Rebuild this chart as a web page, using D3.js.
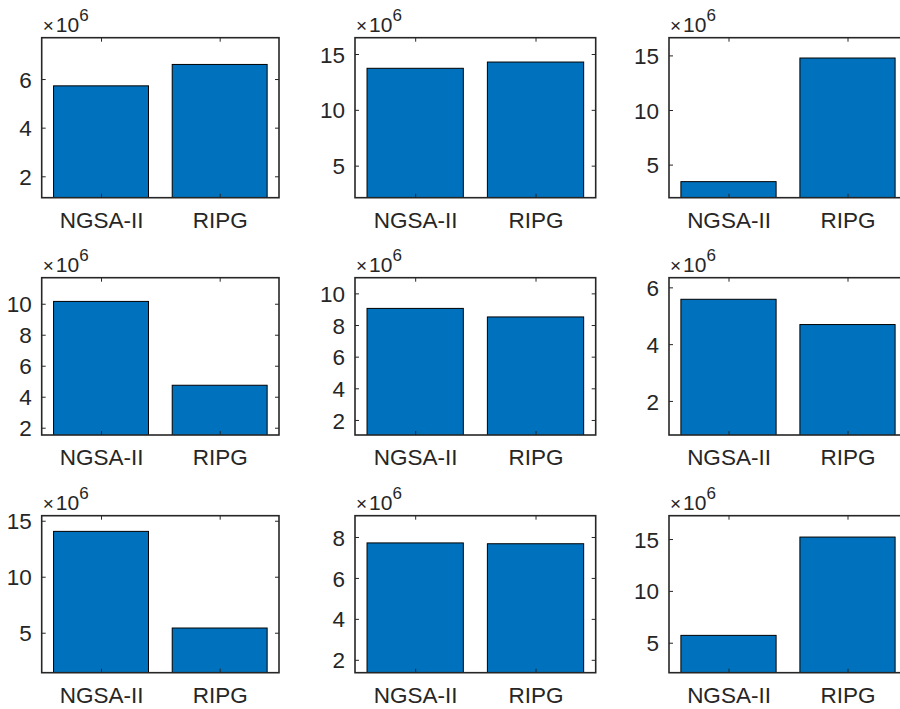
<!DOCTYPE html>
<html>
<head>
<meta charset="utf-8">
<script src="https://cdn.jsdelivr.net/npm/d3@7"></script>
<style>
  html, body { margin: 0; padding: 0; background: #fff; overflow: hidden; }
  svg { display: block; }
  text { font-family: "Liberation Sans", Arial, Helvetica, sans-serif; fill: #262626; }
</style>
</head>
<body>
<svg id="chart" width="900" height="709"></svg>
<script>
// Algorithms compared in each subplot
const categories = ["NGSA-II", "RIPG"];

// Bar heights per subplot (units of 10^6), row by row
const panelValues = [
  [5.72, 6.60],
  [13.72, 14.28],
  [3.44, 14.76],
  [10.15, 4.74],
  [9.05, 8.51],
  [5.58, 4.69],
  [14.05, 5.42],
  [7.71, 7.67],
  [5.71, 15.19]
];

// Y-axis limits per subplot (units of 10^6)
const panelYLimits = [
  [1.12, 7.70],
  [2.13, 16.46],
  [1.97, 16.62],
  [1.53, 11.68],
  [1.05, 10.99],
  [0.80, 6.34],
  [1.43, 15.45],
  [1.37, 9.04],
  [2.11, 17.25]
];

// Y tick values per subplot
const panelYTicks = [
  [2, 4, 6],
  [5, 10, 15],
  [5, 10, 15],
  [2, 4, 6, 8, 10],
  [2, 4, 6, 8, 10],
  [2, 4, 6],
  [5, 10, 15],
  [2, 4, 6, 8],
  [5, 10, 15]
];

const exponent = "6";

// Grid layout of the axes boxes
const colLeft = [41.7, 355, 669];
const colWidth = [237.3, 240.7, 238];
const rowTop = [37.7, 277.7, 515.7];
const rowBottom = [197.7, 435, 672.7];

const barColor = "#0072BD";
const axisColor = "#262626";
const tickLen = 4;

const svg = d3.select("#chart");

panelValues.forEach((vals, i) => {
  const r = Math.floor(i / 3), c = i % 3;
  const x0 = colLeft[c], w = colWidth[c];
  const y0 = rowTop[r], h = rowBottom[r] - rowTop[r];

  const g = svg.append("g").attr("transform", `translate(${x0},${y0})`);

  const x = d3.scaleLinear().domain([0.5, 2.5]).range([0, w]);
  const y = d3.scaleLinear().domain(panelYLimits[i]).range([h, 0]);
  const barW = x(1.4) - x(0.6);

  const clipId = "clip" + i;
  g.append("clipPath").attr("id", clipId)
    .append("rect").attr("x", 0).attr("y", 0).attr("width", w).attr("height", h);

  // Bars (baseline at zero, clipped to the axes box)
  g.append("g").attr("clip-path", `url(#${clipId})`)
    .selectAll("rect")
    .data(vals)
    .join("rect")
    .attr("x", (d, j) => x(j + 1) - barW / 2)
    .attr("y", d => y(d))
    .attr("width", barW)
    .attr("height", d => y(0) - y(d))
    .attr("fill", barColor)
    .attr("stroke", "#000")
    .attr("stroke-width", 1);

  // Left axis with tick labels, ticks pointing inward
  const yAxisLeft = d3.axisLeft(y).tickValues(panelYTicks[i]).tickSize(-tickLen).tickPadding(6 + tickLen).tickFormat(d3.format("d"));
  const gl = g.append("g").call(yAxisLeft);
  gl.select(".domain").remove();
  gl.selectAll("line").attr("stroke", axisColor).attr("stroke-width", 1);
  gl.selectAll("text").attr("font-size", 22.5).attr("fill", axisColor).attr("dy", "0.36em");

  // Right axis ticks (no labels)
  const gr = g.append("g").attr("transform", `translate(${w},0)`)
    .call(d3.axisRight(y).tickValues(panelYTicks[i]).tickSize(-tickLen).tickFormat(""));
  gr.select(".domain").remove();
  gr.selectAll("line").attr("stroke", axisColor).attr("stroke-width", 1);

  // Bottom axis with category labels
  const gb = g.append("g").attr("transform", `translate(0,${h})`)
    .call(d3.axisBottom(x).tickValues([1, 2]).tickSize(-tickLen).tickPadding(10 + tickLen)
      .tickFormat(d => categories[d - 1]));
  gb.select(".domain").remove();
  gb.selectAll("line").attr("stroke", axisColor).attr("stroke-width", 1);
  gb.selectAll("text").attr("font-size", 22.5).attr("fill", axisColor);

  // Top axis ticks
  const gt = g.append("g")
    .call(d3.axisTop(x).tickValues([1, 2]).tickSize(-tickLen).tickFormat(""));
  gt.select(".domain").remove();
  gt.selectAll("line").attr("stroke", axisColor).attr("stroke-width", 1);

  // Axes box
  g.append("rect")
    .attr("x", 0).attr("y", 0).attr("width", w).attr("height", h)
    .attr("fill", "none").attr("stroke", axisColor).attr("stroke-width", 1.6);

  // Exponent label
  const ex = g.append("text").attr("x", 1).attr("y", -5.5).attr("font-size", 21);
  ex.append("tspan").text("\u00D7").attr("font-size", 19).attr("font-weight", 300);
  ex.append("tspan").text("10").attr("dx", 2);
  ex.append("tspan").text(exponent).attr("font-size", 17).attr("dy", -11);
});
</script>
</body>
</html>
